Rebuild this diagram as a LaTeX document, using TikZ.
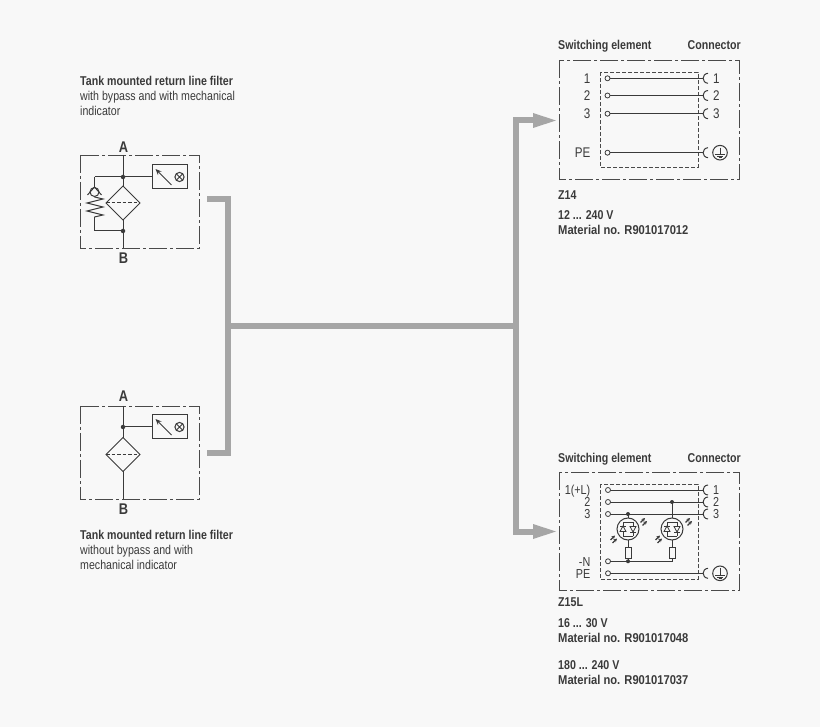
\documentclass[tikz,border=0pt]{standalone}
\usepackage{fontspec}
\setmainfont{Liberation Sans}
\newfontfamily\cond[FakeStretch=0.83]{Liberation Sans}
\newfontfamily\condw[FakeStretch=0.873]{Liberation Sans}
\usetikzlibrary{arrows.meta}
\definecolor{ink}{HTML}{3A3A3A}
\definecolor{soft}{HTML}{4A4A4A}
\definecolor{pipe}{HTML}{A6A6A6}
\definecolor{bgc}{HTML}{F8F8F8}
\tikzset{
 frame/.style={draw=soft,line width=0.85pt,dash pattern=on 18pt off 3pt on 3pt off 3pt},
 inner/.style={draw=soft,line width=0.85pt,dash pattern=on 4pt off 2pt},
 ln/.style={draw=ink,line width=1pt},
 fat/.style={draw=pipe,line width=6pt},
 dotn/.style={circle,fill=ink,inner sep=0pt,minimum size=4.5pt},
 pin/.style={circle,draw=ink,fill=bgc,line width=0.8pt,inner sep=0pt,minimum size=5pt},
 txt/.style={font=\cond\fontsize{12.8}{14}\selectfont,text=ink,inner sep=0pt,anchor=base west},
 btxt/.style={font=\cond\bfseries\fontsize{12.8}{14.5}\selectfont,text=ink,inner sep=0pt,anchor=base west},
 wtxt/.style={font=\condw\bfseries\fontsize{12.8}{14.5}\selectfont,text=ink,inner sep=0pt,anchor=base west},
 port/.style={font=\cond\bfseries\fontsize{15.5}{15}\selectfont,text=ink,inner sep=0pt},
 num/.style={font=\cond\fontsize{14}{14}\selectfont,text=ink,inner sep=0pt},
 numtight/.style={font=\cond\fontsize{13}{14}\selectfont,text=ink,inner sep=0pt},
}
\newcommand{\indic}[2]{%
 \draw[ln] (#1,#2) rectangle +(35,24);
 \draw[ln,-{Stealth[length=6pt,width=5pt]}] (#1+19,#2+20) -- (#1+3,#2+4);
 \draw[ln] (#1+27,#2+12) circle (4.6);
 \draw[ln] (#1+23.8,#2+8.8) -- (#1+30.2,#2+15.2) (#1+23.8,#2+15.2) -- (#1+30.2,#2+8.8);
}
\newcommand{\filt}[2]{%
 \draw[ln] (#1,#2-17) -- (#1+17,#2) -- (#1,#2+17) -- (#1-17,#2) -- cycle;
 \draw[ln,dash pattern=on 3.5pt off 2pt] (#1-17,#2) -- (#1+17,#2);
}
\newcommand{\conn}[2]{%
 \draw[ln] (#1+5,#2-5) .. controls (#1-1.5,#2-4.5) and (#1-1.5,#2+4.5) .. (#1+5,#2+5);
}
\newcommand{\earth}[2]{%
 \draw[ln] (#1,#2) circle (7.3);
 \draw[ln] (#1,#2-5) -- (#1,#2+2) (#1-5,#2+2) -- (#1+5,#2+2) (#1-3.2,#2+3.7) -- (#1+3.2,#2+3.7) (#1-1.5,#2+5.2) -- (#1+1.5,#2+5.2);
}
\newcommand{\ray}[2]{%
 \draw[ink,line width=1.1pt,-{Stealth[length=3.5pt,width=3.5pt]}] (#1,#2) -- ++(4.5,-4.5);
 \draw[ink,line width=1.1pt,-{Stealth[length=3.5pt,width=3.5pt]}] (#1+2,#2+3) -- ++(4.5,-4.5);
}
\newcommand{\led}[2]{%
 \draw[ln] (#1,#2) circle (11);
 \draw[ink,line width=0.8pt] (#1-5,#2-7) -- (#1+5,#2-7) (#1-5,#2+7) -- (#1+5,#2+7);
 \draw[ink,line width=0.8pt] (#1-5,#2-7) -- (#1-5,#2+7) (#1+5,#2-7) -- (#1+5,#2+7);
 \draw[ink,line width=0.8pt,fill=bgc] (#1-5,#2-3) -- (#1-8,#2+2.5) -- (#1-2,#2+2.5) -- cycle;
 \draw[ink,line width=0.8pt] (#1-8,#2-3) -- (#1-2,#2-3);
 \draw[ink,line width=0.8pt,fill=bgc] (#1+5,#2+3) -- (#1+8,#2-2.5) -- (#1+2,#2-2.5) -- cycle;
 \draw[ink,line width=0.8pt] (#1+8,#2+3) -- (#1+2,#2+3);
}
\begin{document}
\begin{tikzpicture}[x=1pt,y=-1pt]
\useasboundingbox (0,0) rectangle (820,727);
\fill[bgc] (0,0) rectangle (820,727);

% pipes
\draw[fat] (207,199.5) -- (228,199.5) -- (228,453) -- (207,453);
\draw[fat] (228,326) -- (516,326);
\draw[fat] (535,120.5) -- (516,120.5) -- (516,531.5) -- (535,531.5);
\fill[pipe] (533,113) -- (556,120.5) -- (533,128) -- cycle;
\fill[pipe] (533,524) -- (556,531.5) -- (533,539) -- cycle;

% left-top
\node[btxt] (t1) at (80,85.5) {Tank mounted return line filter};
\node[txt] (t2) at (80,101) {with bypass and with mechanical};
\node[txt] (t3) at (80,116) {indicator};
\draw[frame] (80,155) rectangle (199,248);
\node[port] (a1) at (123.5,147) {A};
\node[port] (b1) at (123.5,258) {B};
\coordinate (j1) at (123,177);
\coordinate (j2) at (123,231);
\draw[ln] (123,155) -- (123,186);
\draw[ln] (123,220) -- (123,248);
\filt{123}{203}
\draw[ln] (94.5,231) -- (123,231);
\draw[ln] (94.5,177) -- (152.5,177);
\draw[ln] (94.5,177) -- (94.5,187);
\draw[ln] (94.5,217) -- (94.5,231);
\draw[ln] (94.5,192) circle (4.5);
\draw[ln] (87.5,195) -- (94.5,187) -- (101.5,195);
\draw[ln] (94.5,197) -- (103,199) -- (87,203) -- (103,207) -- (87,211) -- (103,215) -- (94.5,217);
\node[dotn] at (j1) {};
\node[dotn] at (j2) {};
\indic{152.5}{165}

% left-bottom
\draw[frame] (80,406) rectangle (199,499);
\node[port] (a2) at (123.5,396) {A};
\node[port] (b2) at (123.5,509) {B};
\draw[ln] (123,406) -- (123,438);
\draw[ln] (123,471) -- (123,499);
\filt{123}{454.5}
\draw[ln] (123,427) -- (152.5,427);
\node[dotn] at (123,427) {};
\indic{152.5}{415}
\node[btxt] at (80,539.5) {Tank mounted return line filter};
\node[txt] at (80,554.5) {without bypass and with};
\node[txt] at (80,569.5) {mechanical indicator};

% Z14
\node[btxt] at (558,50) {Switching element};
\node[btxt,anchor=base east] at (741,50) {Connector};
\draw[frame] (559,60.5) rectangle (739.5,179.5);
\draw[inner] (600,72) rectangle (698,167);
\foreach \y/\l in {78.3/1,95.5/2,113.7/3}{
  \node[num,anchor=base east] at (590.5,\y+5) {\l};
  \draw[ln] (607.5,\y) -- (703,\y);
  \node[pin] at (607.5,\y) {};
  \conn{703}{\y}
  \node[num,anchor=base west] at (713,\y+5) {\l};
}
\node[num,anchor=base east] at (590.5,157.7) {PE};
\draw[ln] (607.5,152.7) -- (703,152.7);
\node[pin] at (607.5,152.7) {};
\conn{703}{152.7}
\earth{720}{152.7}
\node[btxt] at (558,199.5) {Z14};
\node[btxt] at (558,219.5) {12 ... 240 V};
\node[wtxt] at (558,234.5) {Material no. R901017012};

% Z15L
\node[btxt] at (558,462.5) {Switching element};
\node[btxt,anchor=base east] at (741,462.5) {Connector};
\draw[frame] (559,472) rectangle (739.5,590);
\draw[inner] (600,484) rectangle (698,579);
\node[numtight,anchor=base east] at (590.5,494.5) {1(+L)};
\node[numtight,anchor=base east] at (590.5,506.5) {2};
\node[numtight,anchor=base east] at (590.5,518.5) {3};
\node[numtight,anchor=base east] at (590.5,566) {-N};
\node[numtight,anchor=base east] at (590.5,578) {PE};
\foreach \y in {490,502,514}{
  \draw[ln] (608,\y) -- (703,\y);
  \node[pin] at (608,\y) {};
  \conn{703}{\y}
}
\node[numtight,anchor=base west] at (713,494.5) {1};
\node[numtight,anchor=base west] at (713,506.5) {2};
\node[numtight,anchor=base west] at (713,518.5) {3};
\draw[ln] (608,561.3) -- (672,561.3) -- (672,558);
\node[pin] at (608,561.3) {};
\draw[ln] (608,573.3) -- (703,573.3);
\node[pin] at (608,573.3) {};
\conn{703}{573.3}
\earth{720}{573.3}
\draw[ln] (628,514) -- (628,518);
\draw[ln] (672,502) -- (672,518);
\led{628}{529}
\led{672}{529}
\draw[ln] (628,540) -- (628,547.5) (628,558) -- (628,561.3);
\draw[ln] (672,540) -- (672,547.5);
\draw[ln] (625,547.5) rectangle (631,558);
\draw[ln] (669,547.5) rectangle (675,558);
\node[dotn,minimum size=4pt] at (628,514) {};
\node[dotn,minimum size=4pt] at (672,502) {};
\node[dotn,minimum size=4pt] at (628,561.3) {};
\ray{640.5}{522.5}
\ray{685.5}{522.5}
\ray{610.5}{540}
\ray{655.5}{540}
\node[btxt] at (558,606) {Z15L};
\node[btxt] at (558,627) {16 ... 30 V};
\node[wtxt] at (558,642) {Material no. R901017048};
\node[btxt] at (558,669) {180 ... 240 V};
\node[wtxt] at (558,684) {Material no. R901017037};
\end{tikzpicture}
\end{document}
